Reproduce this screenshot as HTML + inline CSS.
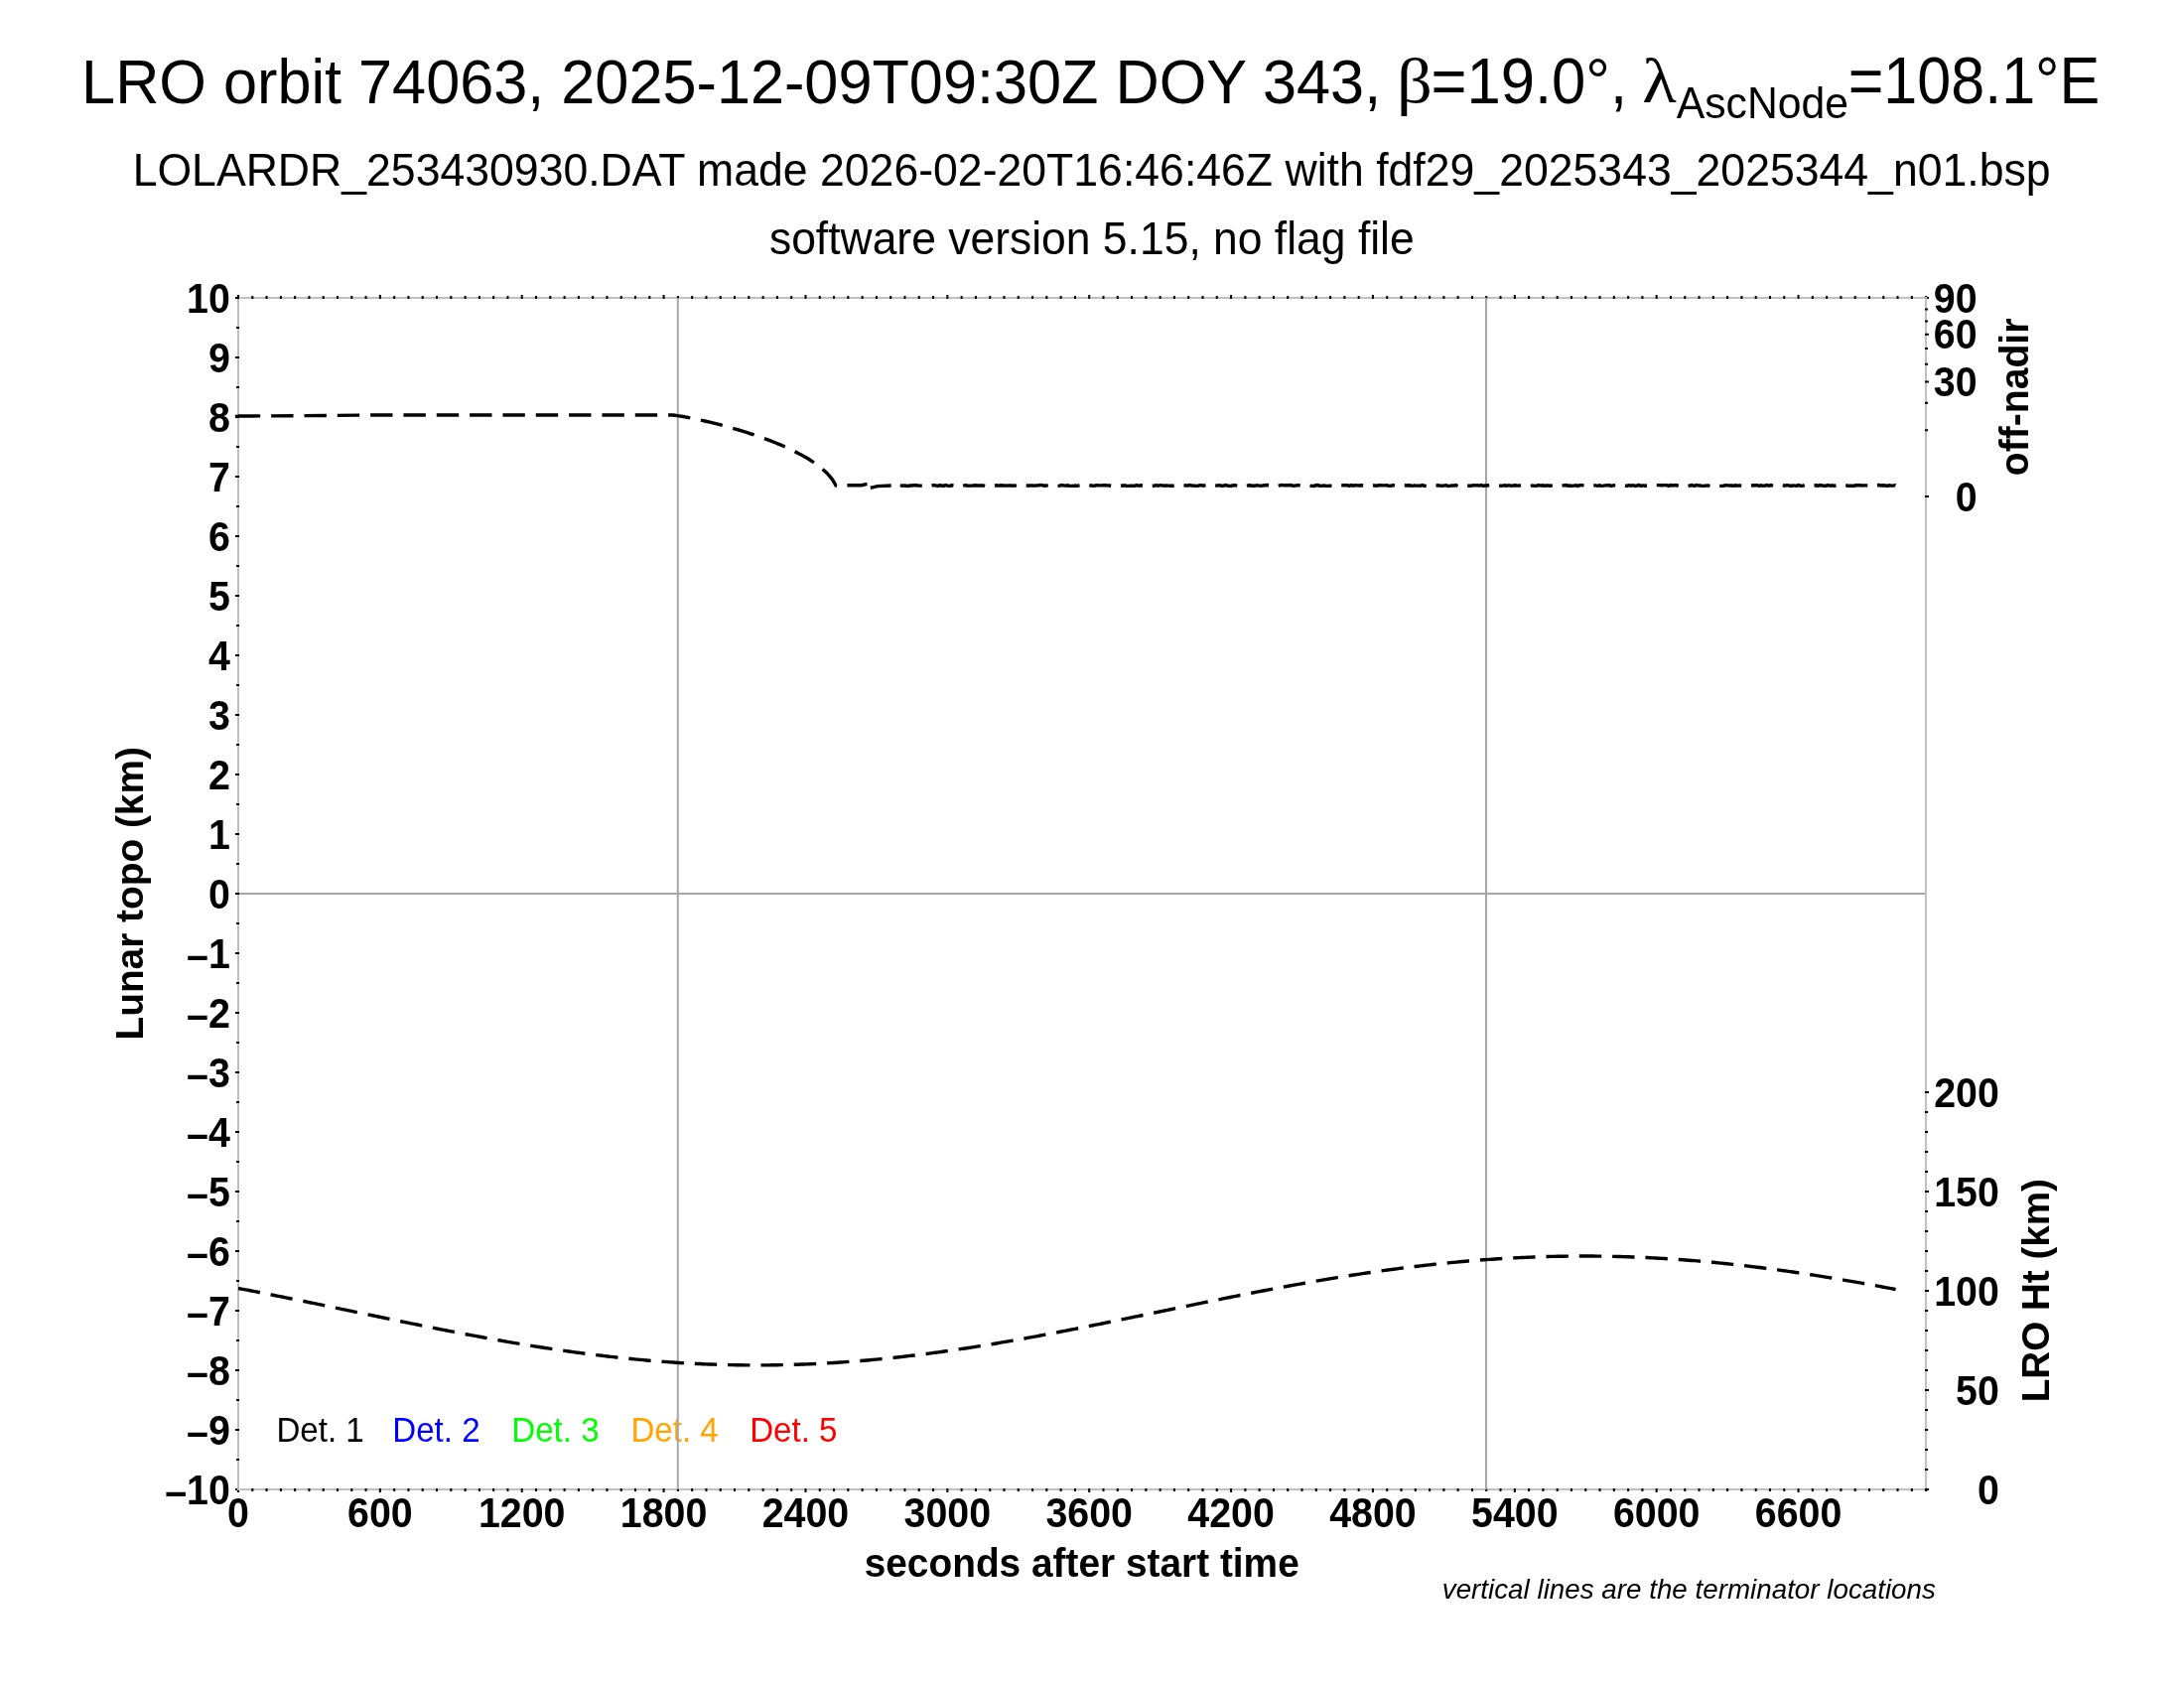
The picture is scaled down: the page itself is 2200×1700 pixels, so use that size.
<!DOCTYPE html><html><head><meta charset="utf-8"><title>LRO orbit 74063</title><style>html,body{margin:0;padding:0;background:#fff;overflow:hidden}svg{display:block;will-change:transform}</style></head><body>
<svg width="2200" height="1700" viewBox="0 0 2200 1700">
<rect x="0" y="0" width="2200" height="1700" fill="#fff"/>
<text x="20" y="300" font-family="Liberation Sans, sans-serif" font-size="64.5" fill="#000" transform="translate(63.133 -190.185) scale(0.94917 0.98000)">LRO orbit 74063, 2025-12-09T09:30Z DOY 343,</text>
<text x="20" y="300" font-family="Liberation Serif, serif" font-size="64.5" fill="#000" transform="translate(1385.237 -195.826) scale(1.09126 0.99578)">β</text>
<text x="20" y="300" font-family="Liberation Sans, sans-serif" font-size="64.5" fill="#000" transform="translate(1422.391 -196.739) scale(0.95525 1.00094)">=19.0°,</text>
<text x="20" y="300" font-family="Liberation Serif, serif" font-size="64.5" fill="#000" transform="translate(1632.182 -190.707) scale(1.10427 0.97802)">λ</text>
<text x="20" y="300" font-family="Liberation Sans, sans-serif" font-size="45.5" fill="#000" transform="translate(1669.989 -171.633) scale(0.93882 0.96716)">AscNode</text>
<text x="20" y="300" font-family="Liberation Sans, sans-serif" font-size="64.5" fill="#000" transform="translate(1842.798 -202.604) scale(0.94632 1.02198)">=108.1°E</text>
<text x="20" y="300" font-family="Liberation Sans, sans-serif" font-size="47" fill="#000" transform="translate(114.661 -107.640) scale(0.94901 0.98286)">LOLARDR_253430930.DAT made 2026-02-20T16:46:46Z with fdf29_2025343_2025344_n01.bsp</text>
<text x="20" y="300" font-family="Liberation Sans, sans-serif" font-size="47" fill="#000" transform="translate(755.995 -33.984) scale(0.94611 0.96686)">software version 5.15, no flag file</text>
<path d="M240.0 900H1940.0" stroke="#a6a6a6" stroke-width="2" fill="none"/>
<rect x="240.0" y="300.0" width="1700.0" height="1200.0" fill="none" stroke="#c0c0c0" stroke-width="2"/>
<path d="M239.00 1499.0h2v4h-2zM239.00 301.0h2v-4h-2zM253.29 1499.0h2v3h-2zM253.29 301.0h2v-3h-2zM267.57 1499.0h2v3h-2zM267.57 301.0h2v-3h-2zM281.86 1499.0h2v3h-2zM281.86 301.0h2v-3h-2zM296.15 1499.0h2v3h-2zM296.15 301.0h2v-3h-2zM310.43 1499.0h2v3h-2zM310.43 301.0h2v-3h-2zM324.72 1499.0h2v3h-2zM324.72 301.0h2v-3h-2zM339.01 1499.0h2v3h-2zM339.01 301.0h2v-3h-2zM353.30 1499.0h2v3h-2zM353.30 301.0h2v-3h-2zM367.58 1499.0h2v3h-2zM367.58 301.0h2v-3h-2zM381.87 1499.0h2v4h-2zM381.87 301.0h2v-4h-2zM396.16 1499.0h2v3h-2zM396.16 301.0h2v-3h-2zM410.44 1499.0h2v3h-2zM410.44 301.0h2v-3h-2zM424.73 1499.0h2v3h-2zM424.73 301.0h2v-3h-2zM439.02 1499.0h2v3h-2zM439.02 301.0h2v-3h-2zM453.30 1499.0h2v3h-2zM453.30 301.0h2v-3h-2zM467.59 1499.0h2v3h-2zM467.59 301.0h2v-3h-2zM481.88 1499.0h2v3h-2zM481.88 301.0h2v-3h-2zM496.16 1499.0h2v3h-2zM496.16 301.0h2v-3h-2zM510.45 1499.0h2v3h-2zM510.45 301.0h2v-3h-2zM524.74 1499.0h2v4h-2zM524.74 301.0h2v-4h-2zM539.03 1499.0h2v3h-2zM539.03 301.0h2v-3h-2zM553.31 1499.0h2v3h-2zM553.31 301.0h2v-3h-2zM567.60 1499.0h2v3h-2zM567.60 301.0h2v-3h-2zM581.89 1499.0h2v3h-2zM581.89 301.0h2v-3h-2zM596.17 1499.0h2v3h-2zM596.17 301.0h2v-3h-2zM610.46 1499.0h2v3h-2zM610.46 301.0h2v-3h-2zM624.75 1499.0h2v3h-2zM624.75 301.0h2v-3h-2zM639.03 1499.0h2v3h-2zM639.03 301.0h2v-3h-2zM653.32 1499.0h2v3h-2zM653.32 301.0h2v-3h-2zM667.61 1499.0h2v4h-2zM667.61 301.0h2v-4h-2zM681.89 1499.0h2v3h-2zM681.89 301.0h2v-3h-2zM696.18 1499.0h2v3h-2zM696.18 301.0h2v-3h-2zM710.47 1499.0h2v3h-2zM710.47 301.0h2v-3h-2zM724.75 1499.0h2v3h-2zM724.75 301.0h2v-3h-2zM739.04 1499.0h2v3h-2zM739.04 301.0h2v-3h-2zM753.33 1499.0h2v3h-2zM753.33 301.0h2v-3h-2zM767.62 1499.0h2v3h-2zM767.62 301.0h2v-3h-2zM781.90 1499.0h2v3h-2zM781.90 301.0h2v-3h-2zM796.19 1499.0h2v3h-2zM796.19 301.0h2v-3h-2zM810.48 1499.0h2v4h-2zM810.48 301.0h2v-4h-2zM824.76 1499.0h2v3h-2zM824.76 301.0h2v-3h-2zM839.05 1499.0h2v3h-2zM839.05 301.0h2v-3h-2zM853.34 1499.0h2v3h-2zM853.34 301.0h2v-3h-2zM867.62 1499.0h2v3h-2zM867.62 301.0h2v-3h-2zM881.91 1499.0h2v3h-2zM881.91 301.0h2v-3h-2zM896.20 1499.0h2v3h-2zM896.20 301.0h2v-3h-2zM910.48 1499.0h2v3h-2zM910.48 301.0h2v-3h-2zM924.77 1499.0h2v3h-2zM924.77 301.0h2v-3h-2zM939.06 1499.0h2v3h-2zM939.06 301.0h2v-3h-2zM953.35 1499.0h2v4h-2zM953.35 301.0h2v-4h-2zM967.63 1499.0h2v3h-2zM967.63 301.0h2v-3h-2zM981.92 1499.0h2v3h-2zM981.92 301.0h2v-3h-2zM996.21 1499.0h2v3h-2zM996.21 301.0h2v-3h-2zM1010.49 1499.0h2v3h-2zM1010.49 301.0h2v-3h-2zM1024.78 1499.0h2v3h-2zM1024.78 301.0h2v-3h-2zM1039.07 1499.0h2v3h-2zM1039.07 301.0h2v-3h-2zM1053.35 1499.0h2v3h-2zM1053.35 301.0h2v-3h-2zM1067.64 1499.0h2v3h-2zM1067.64 301.0h2v-3h-2zM1081.93 1499.0h2v3h-2zM1081.93 301.0h2v-3h-2zM1096.21 1499.0h2v4h-2zM1096.21 301.0h2v-4h-2zM1110.50 1499.0h2v3h-2zM1110.50 301.0h2v-3h-2zM1124.79 1499.0h2v3h-2zM1124.79 301.0h2v-3h-2zM1139.08 1499.0h2v3h-2zM1139.08 301.0h2v-3h-2zM1153.36 1499.0h2v3h-2zM1153.36 301.0h2v-3h-2zM1167.65 1499.0h2v3h-2zM1167.65 301.0h2v-3h-2zM1181.94 1499.0h2v3h-2zM1181.94 301.0h2v-3h-2zM1196.22 1499.0h2v3h-2zM1196.22 301.0h2v-3h-2zM1210.51 1499.0h2v3h-2zM1210.51 301.0h2v-3h-2zM1224.80 1499.0h2v3h-2zM1224.80 301.0h2v-3h-2zM1239.08 1499.0h2v4h-2zM1239.08 301.0h2v-4h-2zM1253.37 1499.0h2v3h-2zM1253.37 301.0h2v-3h-2zM1267.66 1499.0h2v3h-2zM1267.66 301.0h2v-3h-2zM1281.94 1499.0h2v3h-2zM1281.94 301.0h2v-3h-2zM1296.23 1499.0h2v3h-2zM1296.23 301.0h2v-3h-2zM1310.52 1499.0h2v3h-2zM1310.52 301.0h2v-3h-2zM1324.81 1499.0h2v3h-2zM1324.81 301.0h2v-3h-2zM1339.09 1499.0h2v3h-2zM1339.09 301.0h2v-3h-2zM1353.38 1499.0h2v3h-2zM1353.38 301.0h2v-3h-2zM1367.67 1499.0h2v3h-2zM1367.67 301.0h2v-3h-2zM1381.95 1499.0h2v4h-2zM1381.95 301.0h2v-4h-2zM1396.24 1499.0h2v3h-2zM1396.24 301.0h2v-3h-2zM1410.53 1499.0h2v3h-2zM1410.53 301.0h2v-3h-2zM1424.81 1499.0h2v3h-2zM1424.81 301.0h2v-3h-2zM1439.10 1499.0h2v3h-2zM1439.10 301.0h2v-3h-2zM1453.39 1499.0h2v3h-2zM1453.39 301.0h2v-3h-2zM1467.67 1499.0h2v3h-2zM1467.67 301.0h2v-3h-2zM1481.96 1499.0h2v3h-2zM1481.96 301.0h2v-3h-2zM1496.25 1499.0h2v3h-2zM1496.25 301.0h2v-3h-2zM1510.53 1499.0h2v3h-2zM1510.53 301.0h2v-3h-2zM1524.82 1499.0h2v4h-2zM1524.82 301.0h2v-4h-2zM1539.11 1499.0h2v3h-2zM1539.11 301.0h2v-3h-2zM1553.40 1499.0h2v3h-2zM1553.40 301.0h2v-3h-2zM1567.68 1499.0h2v3h-2zM1567.68 301.0h2v-3h-2zM1581.97 1499.0h2v3h-2zM1581.97 301.0h2v-3h-2zM1596.26 1499.0h2v3h-2zM1596.26 301.0h2v-3h-2zM1610.54 1499.0h2v3h-2zM1610.54 301.0h2v-3h-2zM1624.83 1499.0h2v3h-2zM1624.83 301.0h2v-3h-2zM1639.12 1499.0h2v3h-2zM1639.12 301.0h2v-3h-2zM1653.40 1499.0h2v3h-2zM1653.40 301.0h2v-3h-2zM1667.69 1499.0h2v4h-2zM1667.69 301.0h2v-4h-2zM1681.98 1499.0h2v3h-2zM1681.98 301.0h2v-3h-2zM1696.26 1499.0h2v3h-2zM1696.26 301.0h2v-3h-2zM1710.55 1499.0h2v3h-2zM1710.55 301.0h2v-3h-2zM1724.84 1499.0h2v3h-2zM1724.84 301.0h2v-3h-2zM1739.13 1499.0h2v3h-2zM1739.13 301.0h2v-3h-2zM1753.41 1499.0h2v3h-2zM1753.41 301.0h2v-3h-2zM1767.70 1499.0h2v3h-2zM1767.70 301.0h2v-3h-2zM1781.99 1499.0h2v3h-2zM1781.99 301.0h2v-3h-2zM1796.27 1499.0h2v3h-2zM1796.27 301.0h2v-3h-2zM1810.56 1499.0h2v4h-2zM1810.56 301.0h2v-4h-2zM1824.85 1499.0h2v3h-2zM1824.85 301.0h2v-3h-2zM1839.13 1499.0h2v3h-2zM1839.13 301.0h2v-3h-2zM1853.42 1499.0h2v3h-2zM1853.42 301.0h2v-3h-2zM1867.71 1499.0h2v3h-2zM1867.71 301.0h2v-3h-2zM1881.99 1499.0h2v3h-2zM1881.99 301.0h2v-3h-2zM1896.28 1499.0h2v3h-2zM1896.28 301.0h2v-3h-2zM1910.57 1499.0h2v3h-2zM1910.57 301.0h2v-3h-2zM1924.86 1499.0h2v3h-2zM1924.86 301.0h2v-3h-2zM1939.14 1499.0h2v3h-2zM1939.14 301.0h2v-3h-2zM241.0 1499.00h-4v2h4zM241.0 1469.00h-3v2h3zM241.0 1439.00h-4v2h4zM241.0 1409.00h-3v2h3zM241.0 1379.00h-4v2h4zM241.0 1349.00h-3v2h3zM241.0 1319.00h-4v2h4zM241.0 1289.00h-3v2h3zM241.0 1259.00h-4v2h4zM241.0 1229.00h-3v2h3zM241.0 1199.00h-4v2h4zM241.0 1169.00h-3v2h3zM241.0 1139.00h-4v2h4zM241.0 1109.00h-3v2h3zM241.0 1079.00h-4v2h4zM241.0 1049.00h-3v2h3zM241.0 1019.00h-4v2h4zM241.0 989.00h-3v2h3zM241.0 959.00h-4v2h4zM241.0 929.00h-3v2h3zM241.0 899.00h-4v2h4zM241.0 869.00h-3v2h3zM241.0 839.00h-4v2h4zM241.0 809.00h-3v2h3zM241.0 779.00h-4v2h4zM241.0 749.00h-3v2h3zM241.0 719.00h-4v2h4zM241.0 689.00h-3v2h3zM241.0 659.00h-4v2h4zM241.0 629.00h-3v2h3zM241.0 599.00h-4v2h4zM241.0 569.00h-3v2h3zM241.0 539.00h-4v2h4zM241.0 509.00h-3v2h3zM241.0 479.00h-4v2h4zM241.0 449.00h-3v2h3zM241.0 419.00h-4v2h4zM241.0 389.00h-3v2h3zM241.0 359.00h-4v2h4zM241.0 329.00h-3v2h3zM241.0 299.00h-4v2h4zM1939.0 499.00h4v2h-4zM1939.0 432.33h3v2h-3zM1939.0 404.72h3v2h-3zM1939.0 383.53h4v2h-4zM1939.0 365.67h3v2h-3zM1939.0 349.93h3v2h-3zM1939.0 335.70h4v2h-4zM1939.0 322.62h3v2h-3zM1939.0 310.44h3v2h-3zM1939.0 299.00h4v2h-4zM1939.0 1499.00h4v2h-4zM1939.0 1479.00h3v2h-3zM1939.0 1459.00h3v2h-3zM1939.0 1439.00h3v2h-3zM1939.0 1419.00h3v2h-3zM1939.0 1399.00h4v2h-4zM1939.0 1379.00h3v2h-3zM1939.0 1359.00h3v2h-3zM1939.0 1339.00h3v2h-3zM1939.0 1319.00h3v2h-3zM1939.0 1299.00h4v2h-4zM1939.0 1279.00h3v2h-3zM1939.0 1259.00h3v2h-3zM1939.0 1239.00h3v2h-3zM1939.0 1219.00h3v2h-3zM1939.0 1199.00h4v2h-4zM1939.0 1179.00h3v2h-3zM1939.0 1159.00h3v2h-3zM1939.0 1139.00h3v2h-3zM1939.0 1119.00h3v2h-3zM1939.0 1099.00h4v2h-4z" fill="#000"/>
<g fill="#000">
<text x="0" y="0" font-family="Liberation Sans, sans-serif" font-weight="bold" font-size="41" text-anchor="end" transform="translate(231.80 1514.55) scale(0.96 1.045)"><tspan dy="1.7">–</tspan><tspan dy="-1.7">10</tspan></text>
<text x="0" y="0" font-family="Liberation Sans, sans-serif" font-weight="bold" font-size="41" text-anchor="end" transform="translate(231.80 1454.55) scale(0.96 1.045)"><tspan dy="1.7">–</tspan><tspan dy="-1.7">9</tspan></text>
<text x="0" y="0" font-family="Liberation Sans, sans-serif" font-weight="bold" font-size="41" text-anchor="end" transform="translate(231.80 1394.55) scale(0.96 1.045)"><tspan dy="1.7">–</tspan><tspan dy="-1.7">8</tspan></text>
<text x="0" y="0" font-family="Liberation Sans, sans-serif" font-weight="bold" font-size="41" text-anchor="end" transform="translate(231.80 1334.55) scale(0.96 1.045)"><tspan dy="1.7">–</tspan><tspan dy="-1.7">7</tspan></text>
<text x="0" y="0" font-family="Liberation Sans, sans-serif" font-weight="bold" font-size="41" text-anchor="end" transform="translate(231.80 1274.55) scale(0.96 1.045)"><tspan dy="1.7">–</tspan><tspan dy="-1.7">6</tspan></text>
<text x="0" y="0" font-family="Liberation Sans, sans-serif" font-weight="bold" font-size="41" text-anchor="end" transform="translate(231.80 1214.55) scale(0.96 1.045)"><tspan dy="1.7">–</tspan><tspan dy="-1.7">5</tspan></text>
<text x="0" y="0" font-family="Liberation Sans, sans-serif" font-weight="bold" font-size="41" text-anchor="end" transform="translate(231.80 1154.55) scale(0.96 1.045)"><tspan dy="1.7">–</tspan><tspan dy="-1.7">4</tspan></text>
<text x="0" y="0" font-family="Liberation Sans, sans-serif" font-weight="bold" font-size="41" text-anchor="end" transform="translate(231.80 1094.55) scale(0.96 1.045)"><tspan dy="1.7">–</tspan><tspan dy="-1.7">3</tspan></text>
<text x="0" y="0" font-family="Liberation Sans, sans-serif" font-weight="bold" font-size="41" text-anchor="end" transform="translate(231.80 1034.55) scale(0.96 1.045)"><tspan dy="1.7">–</tspan><tspan dy="-1.7">2</tspan></text>
<text x="0" y="0" font-family="Liberation Sans, sans-serif" font-weight="bold" font-size="41" text-anchor="end" transform="translate(231.80 974.55) scale(0.96 1.045)"><tspan dy="1.7">–</tspan><tspan dy="-1.7">1</tspan></text>
<text x="0" y="0" font-family="Liberation Sans, sans-serif" font-weight="bold" font-size="41" text-anchor="end" transform="translate(231.80 914.55) scale(0.96 1.045)">0</text>
<text x="0" y="0" font-family="Liberation Sans, sans-serif" font-weight="bold" font-size="41" text-anchor="end" transform="translate(231.80 854.55) scale(0.96 1.045)">1</text>
<text x="0" y="0" font-family="Liberation Sans, sans-serif" font-weight="bold" font-size="41" text-anchor="end" transform="translate(231.80 794.55) scale(0.96 1.045)">2</text>
<text x="0" y="0" font-family="Liberation Sans, sans-serif" font-weight="bold" font-size="41" text-anchor="end" transform="translate(231.80 734.55) scale(0.96 1.045)">3</text>
<text x="0" y="0" font-family="Liberation Sans, sans-serif" font-weight="bold" font-size="41" text-anchor="end" transform="translate(231.80 674.55) scale(0.96 1.045)">4</text>
<text x="0" y="0" font-family="Liberation Sans, sans-serif" font-weight="bold" font-size="41" text-anchor="end" transform="translate(231.80 614.55) scale(0.96 1.045)">5</text>
<text x="0" y="0" font-family="Liberation Sans, sans-serif" font-weight="bold" font-size="41" text-anchor="end" transform="translate(231.80 554.55) scale(0.96 1.045)">6</text>
<text x="0" y="0" font-family="Liberation Sans, sans-serif" font-weight="bold" font-size="41" text-anchor="end" transform="translate(231.80 494.55) scale(0.96 1.045)">7</text>
<text x="0" y="0" font-family="Liberation Sans, sans-serif" font-weight="bold" font-size="41" text-anchor="end" transform="translate(231.80 434.55) scale(0.96 1.045)">8</text>
<text x="0" y="0" font-family="Liberation Sans, sans-serif" font-weight="bold" font-size="41" text-anchor="end" transform="translate(231.80 374.55) scale(0.96 1.045)">9</text>
<text x="0" y="0" font-family="Liberation Sans, sans-serif" font-weight="bold" font-size="41" text-anchor="end" transform="translate(231.80 314.55) scale(0.96 1.045)">10</text>
<text x="0" y="0" font-family="Liberation Sans, sans-serif" font-weight="bold" font-size="41" text-anchor="middle" transform="translate(240.00 1537.55) scale(0.96 1.045)">0</text>
<text x="0" y="0" font-family="Liberation Sans, sans-serif" font-weight="bold" font-size="41" text-anchor="middle" transform="translate(382.87 1537.55) scale(0.96 1.045)">600</text>
<text x="0" y="0" font-family="Liberation Sans, sans-serif" font-weight="bold" font-size="41" text-anchor="middle" transform="translate(525.74 1537.55) scale(0.96 1.045)">1200</text>
<text x="0" y="0" font-family="Liberation Sans, sans-serif" font-weight="bold" font-size="41" text-anchor="middle" transform="translate(668.61 1537.55) scale(0.96 1.045)">1800</text>
<text x="0" y="0" font-family="Liberation Sans, sans-serif" font-weight="bold" font-size="41" text-anchor="middle" transform="translate(811.48 1537.55) scale(0.96 1.045)">2400</text>
<text x="0" y="0" font-family="Liberation Sans, sans-serif" font-weight="bold" font-size="41" text-anchor="middle" transform="translate(954.35 1537.55) scale(0.96 1.045)">3000</text>
<text x="0" y="0" font-family="Liberation Sans, sans-serif" font-weight="bold" font-size="41" text-anchor="middle" transform="translate(1097.21 1537.55) scale(0.96 1.045)">3600</text>
<text x="0" y="0" font-family="Liberation Sans, sans-serif" font-weight="bold" font-size="41" text-anchor="middle" transform="translate(1240.08 1537.55) scale(0.96 1.045)">4200</text>
<text x="0" y="0" font-family="Liberation Sans, sans-serif" font-weight="bold" font-size="41" text-anchor="middle" transform="translate(1382.95 1537.55) scale(0.96 1.045)">4800</text>
<text x="0" y="0" font-family="Liberation Sans, sans-serif" font-weight="bold" font-size="41" text-anchor="middle" transform="translate(1525.82 1537.55) scale(0.96 1.045)">5400</text>
<text x="0" y="0" font-family="Liberation Sans, sans-serif" font-weight="bold" font-size="41" text-anchor="middle" transform="translate(1668.69 1537.55) scale(0.96 1.045)">6000</text>
<text x="0" y="0" font-family="Liberation Sans, sans-serif" font-weight="bold" font-size="41" text-anchor="middle" transform="translate(1811.56 1537.55) scale(0.96 1.045)">6600</text>
<text x="0" y="0" font-family="Liberation Sans, sans-serif" font-weight="bold" font-size="41" text-anchor="end" transform="translate(1991.60 514.55) scale(0.96 1.045)">0</text>
<text x="0" y="0" font-family="Liberation Sans, sans-serif" font-weight="bold" font-size="41" text-anchor="end" transform="translate(1991.60 399.08) scale(0.96 1.045)">30</text>
<text x="0" y="0" font-family="Liberation Sans, sans-serif" font-weight="bold" font-size="41" text-anchor="end" transform="translate(1991.60 351.25) scale(0.96 1.045)">60</text>
<text x="0" y="0" font-family="Liberation Sans, sans-serif" font-weight="bold" font-size="41" text-anchor="end" transform="translate(1991.60 314.55) scale(0.96 1.045)">90</text>
<text x="0" y="0" font-family="Liberation Sans, sans-serif" font-weight="bold" font-size="41" text-anchor="end" transform="translate(2013.80 1514.55) scale(0.96 1.045)">0</text>
<text x="0" y="0" font-family="Liberation Sans, sans-serif" font-weight="bold" font-size="41" text-anchor="end" transform="translate(2013.80 1414.55) scale(0.96 1.045)">50</text>
<text x="0" y="0" font-family="Liberation Sans, sans-serif" font-weight="bold" font-size="41" text-anchor="end" transform="translate(2013.80 1314.55) scale(0.96 1.045)">100</text>
<text x="0" y="0" font-family="Liberation Sans, sans-serif" font-weight="bold" font-size="41" text-anchor="end" transform="translate(2013.80 1214.55) scale(0.96 1.045)">150</text>
<text x="0" y="0" font-family="Liberation Sans, sans-serif" font-weight="bold" font-size="41" text-anchor="end" transform="translate(2013.80 1114.55) scale(0.96 1.045)">200</text>
</g>
<text x="20" y="300" font-family="Liberation Sans, sans-serif" font-weight="bold" font-size="41" fill="#000" transform="translate(851.729 1291.553) scale(0.94747 0.98667)">seconds after start time</text>
<text x="20" y="300" font-family="Liberation Sans, sans-serif" font-weight="bold" font-size="41" fill="#000" transform="translate(115.200 1044.900) rotate(-90) scale(0.94711 0.95686) translate(-22.750 -270.250)">Lunar topo (km)</text>
<text x="20" y="300" font-family="Liberation Sans, sans-serif" font-weight="bold" font-size="41" fill="#000" transform="translate(2013.300 477.700) rotate(-90) scale(0.95403 0.98667) translate(-21.500 -270.250)">off-nadir</text>
<text x="20" y="300" font-family="Liberation Sans, sans-serif" font-weight="bold" font-size="41" fill="#000" transform="translate(2035.400 1409.700) rotate(-90) scale(0.94216 0.95163) translate(-22.750 -270.250)">LRO Ht (km)</text>
<text x="20" y="300" font-family="Liberation Sans, sans-serif" font-style="italic" font-size="29" fill="#000" transform="translate(1433.592 1319.334) scale(0.95849 0.96941)">vertical lines are the terminator locations</text>
<text x="20" y="300" font-family="Liberation Sans, sans-serif" font-size="35" fill="#000" transform="translate(259.477 1146.891) scale(0.94607 1.01818)">Det. 1</text>
<text x="20" y="300" font-family="Liberation Sans, sans-serif" font-size="35" fill="#0000ff" transform="translate(376.377 1146.891) scale(0.94607 1.01818)">Det. 2</text>
<text x="20" y="300" font-family="Liberation Sans, sans-serif" font-size="35" fill="#00ff00" transform="translate(496.377 1146.891) scale(0.94607 1.01818)">Det. 3</text>
<text x="20" y="300" font-family="Liberation Sans, sans-serif" font-size="35" fill="#ffa500" transform="translate(616.477 1146.891) scale(0.94607 1.01818)">Det. 4</text>
<text x="20" y="300" font-family="Liberation Sans, sans-serif" font-size="35" fill="#ff0000" transform="translate(736.277 1146.891) scale(0.94607 1.01818)">Det. 5</text>
<path d="M682.8 300.0V1500.0" stroke="#a6a6a6" stroke-width="2" fill="none"/>
<path d="M1497.0 300.0V1500.0" stroke="#a6a6a6" stroke-width="2" fill="none"/>
<polyline points="240.0,1297.49 243.0,1298.06 246.0,1298.63 249.0,1299.20 252.0,1299.77 255.0,1300.35 258.0,1300.93 261.0,1301.51 264.0,1302.10 267.0,1302.68 270.0,1303.27 273.0,1303.87 276.0,1304.46 279.0,1305.06 282.0,1305.65 285.0,1306.25 288.0,1306.86 291.0,1307.46 294.0,1308.06 297.0,1308.67 300.0,1309.28 303.0,1309.89 306.0,1310.50 309.0,1311.11 312.0,1311.73 315.0,1312.34 318.0,1312.96 321.0,1313.58 324.0,1314.20 327.0,1314.82 330.0,1315.44 333.0,1316.06 336.0,1316.68 339.0,1317.30 342.0,1317.92 345.0,1318.55 348.0,1319.17 351.0,1319.79 354.0,1320.42 357.0,1321.04 360.0,1321.67 363.0,1322.29 366.0,1322.91 369.0,1323.54 372.0,1324.16 375.0,1324.78 378.0,1325.40 381.0,1326.03 384.0,1326.65 387.0,1327.27 390.0,1327.89 393.0,1328.50 396.0,1329.12 399.0,1329.74 402.0,1330.35 405.0,1330.97 408.0,1331.58 411.0,1332.19 414.0,1332.80 417.0,1333.41 420.0,1334.02 423.0,1334.62 426.0,1335.23 429.0,1335.83 432.0,1336.43 435.0,1337.02 438.0,1337.62 441.0,1338.21 444.0,1338.80 447.0,1339.39 450.0,1339.98 453.0,1340.56 456.0,1341.14 459.0,1341.72 462.0,1342.30 465.0,1342.87 468.0,1343.44 471.0,1344.01 474.0,1344.57 477.0,1345.13 480.0,1345.69 483.0,1346.24 486.0,1346.79 489.0,1347.34 492.0,1347.89 495.0,1348.43 498.0,1348.96 501.0,1349.50 504.0,1350.03 507.0,1350.55 510.0,1351.07 513.0,1351.59 516.0,1352.10 519.0,1352.61 522.0,1353.12 525.0,1353.62 528.0,1354.11 531.0,1354.61 534.0,1355.09 537.0,1355.58 540.0,1356.06 543.0,1356.53 546.0,1357.00 549.0,1357.46 552.0,1357.92 555.0,1358.37 558.0,1358.82 561.0,1359.27 564.0,1359.71 567.0,1360.14 570.0,1360.57 573.0,1360.99 576.0,1361.41 579.0,1361.82 582.0,1362.23 585.0,1362.63 588.0,1363.03 591.0,1363.42 594.0,1363.80 597.0,1364.18 600.0,1364.55 603.0,1364.92 606.0,1365.28 609.0,1365.63 612.0,1365.98 615.0,1366.33 618.0,1366.66 621.0,1366.99 624.0,1367.32 627.0,1367.63 630.0,1367.95 633.0,1368.25 636.0,1368.55 639.0,1368.84 642.0,1369.13 645.0,1369.41 648.0,1369.68 651.0,1369.95 654.0,1370.21 657.0,1370.46 660.0,1370.71 663.0,1370.94 666.0,1371.18 669.0,1371.40 672.0,1371.62 675.0,1371.83 678.0,1372.04 681.0,1372.24 684.0,1372.43 687.0,1372.61 690.0,1372.79 693.0,1372.96 696.0,1373.12 699.0,1373.28 702.0,1373.43 705.0,1373.57 708.0,1373.71 711.0,1373.83 714.0,1373.95 717.0,1374.07 720.0,1374.17 723.0,1374.27 726.0,1374.36 729.0,1374.45 732.0,1374.53 735.0,1374.60 738.0,1374.66 741.0,1374.71 744.0,1374.76 747.0,1374.80 750.0,1374.83 753.0,1374.86 756.0,1374.88 759.0,1374.89 762.0,1374.89 765.0,1374.89 768.0,1374.88 771.0,1374.86 774.0,1374.84 777.0,1374.80 780.0,1374.76 783.0,1374.72 786.0,1374.66 789.0,1374.60 792.0,1374.53 795.0,1374.45 798.0,1374.37 801.0,1374.28 804.0,1374.18 807.0,1374.07 810.0,1373.96 813.0,1373.84 816.0,1373.71 819.0,1373.58 822.0,1373.44 825.0,1373.29 828.0,1373.13 831.0,1372.97 834.0,1372.80 837.0,1372.63 840.0,1372.44 843.0,1372.25 846.0,1372.05 849.0,1371.85 852.0,1371.64 855.0,1371.42 858.0,1371.19 861.0,1370.96 864.0,1370.72 867.0,1370.48 870.0,1370.23 873.0,1369.97 876.0,1369.70 879.0,1369.43 882.0,1369.15 885.0,1368.87 888.0,1368.57 891.0,1368.28 894.0,1367.97 897.0,1367.66 900.0,1367.35 903.0,1367.02 906.0,1366.69 909.0,1366.36 912.0,1366.02 915.0,1365.67 918.0,1365.31 921.0,1364.96 924.0,1364.59 927.0,1364.22 930.0,1363.84 933.0,1363.46 936.0,1363.07 939.0,1362.68 942.0,1362.28 945.0,1361.87 948.0,1361.46 951.0,1361.04 954.0,1360.62 957.0,1360.20 960.0,1359.76 963.0,1359.33 966.0,1358.88 969.0,1358.44 972.0,1357.98 975.0,1357.53 978.0,1357.06 981.0,1356.60 984.0,1356.13 987.0,1355.65 990.0,1355.17 993.0,1354.68 996.0,1354.19 999.0,1353.70 1002.0,1353.20 1005.0,1352.70 1008.0,1352.19 1011.0,1351.68 1014.0,1351.16 1017.0,1350.64 1020.0,1350.12 1023.0,1349.59 1026.0,1349.06 1029.0,1348.53 1032.0,1347.99 1035.0,1347.45 1038.0,1346.90 1041.0,1346.35 1044.0,1345.80 1047.0,1345.24 1050.0,1344.69 1053.0,1344.12 1056.0,1343.56 1059.0,1342.99 1062.0,1342.42 1065.0,1341.85 1068.0,1341.27 1071.0,1340.69 1074.0,1340.11 1077.0,1339.53 1080.0,1338.94 1083.0,1338.35 1086.0,1337.76 1089.0,1337.17 1092.0,1336.57 1095.0,1335.98 1098.0,1335.38 1101.0,1334.78 1104.0,1334.18 1107.0,1333.57 1110.0,1332.96 1113.0,1332.36 1116.0,1331.75 1119.0,1331.14 1122.0,1330.53 1125.0,1329.91 1128.0,1329.30 1131.0,1328.68 1134.0,1328.07 1137.0,1327.45 1140.0,1326.83 1143.0,1326.21 1146.0,1325.59 1149.0,1324.98 1152.0,1324.35 1155.0,1323.73 1158.0,1323.11 1161.0,1322.49 1164.0,1321.87 1167.0,1321.25 1170.0,1320.63 1173.0,1320.00 1176.0,1319.38 1179.0,1318.76 1182.0,1318.14 1185.0,1317.52 1188.0,1316.90 1191.0,1316.28 1194.0,1315.66 1197.0,1315.04 1200.0,1314.43 1203.0,1313.81 1206.0,1313.19 1209.0,1312.58 1212.0,1311.96 1215.0,1311.35 1218.0,1310.74 1221.0,1310.13 1224.0,1309.52 1227.0,1308.91 1230.0,1308.31 1233.0,1307.70 1236.0,1307.10 1239.0,1306.50 1242.0,1305.90 1245.0,1305.31 1248.0,1304.71 1251.0,1304.12 1254.0,1303.53 1257.0,1302.94 1260.0,1302.35 1263.0,1301.77 1266.0,1301.19 1269.0,1300.61 1272.0,1300.03 1275.0,1299.46 1278.0,1298.89 1281.0,1298.32 1284.0,1297.75 1287.0,1297.19 1290.0,1296.63 1293.0,1296.08 1296.0,1295.52 1299.0,1294.97 1302.0,1294.43 1305.0,1293.88 1308.0,1293.34 1311.0,1292.81 1314.0,1292.27 1317.0,1291.74 1320.0,1291.22 1323.0,1290.69 1326.0,1290.18 1329.0,1289.66 1332.0,1289.15 1335.0,1288.64 1338.0,1288.14 1341.0,1287.64 1344.0,1287.15 1347.0,1286.66 1350.0,1286.17 1353.0,1285.69 1356.0,1285.21 1359.0,1284.74 1362.0,1284.27 1365.0,1283.80 1368.0,1283.35 1371.0,1282.89 1374.0,1282.44 1377.0,1281.99 1380.0,1281.55 1383.0,1281.12 1386.0,1280.69 1389.0,1280.26 1392.0,1279.84 1395.0,1279.42 1398.0,1279.01 1401.0,1278.61 1404.0,1278.21 1407.0,1277.81 1410.0,1277.42 1413.0,1277.04 1416.0,1276.66 1419.0,1276.28 1422.0,1275.92 1425.0,1275.55 1428.0,1275.20 1431.0,1274.84 1434.0,1274.50 1437.0,1274.16 1440.0,1273.82 1443.0,1273.49 1446.0,1273.17 1449.0,1272.85 1452.0,1272.54 1455.0,1272.24 1458.0,1271.94 1461.0,1271.64 1464.0,1271.36 1467.0,1271.07 1470.0,1270.80 1473.0,1270.53 1476.0,1270.27 1479.0,1270.01 1482.0,1269.76 1485.0,1269.51 1488.0,1269.28 1491.0,1269.04 1494.0,1268.82 1497.0,1268.60 1500.0,1268.38 1503.0,1268.18 1506.0,1267.98 1509.0,1267.78 1512.0,1267.60 1515.0,1267.41 1518.0,1267.24 1521.0,1267.07 1524.0,1266.91 1527.0,1266.75 1530.0,1266.61 1533.0,1266.46 1536.0,1266.33 1539.0,1266.20 1542.0,1266.08 1545.0,1265.96 1548.0,1265.85 1551.0,1265.75 1554.0,1265.66 1557.0,1265.57 1560.0,1265.49 1563.0,1265.41 1566.0,1265.34 1569.0,1265.28 1572.0,1265.22 1575.0,1265.18 1578.0,1265.13 1581.0,1265.10 1584.0,1265.07 1587.0,1265.05 1590.0,1265.04 1593.0,1265.03 1596.0,1265.03 1599.0,1265.03 1602.0,1265.04 1605.0,1265.06 1608.0,1265.09 1611.0,1265.12 1614.0,1265.16 1617.0,1265.21 1620.0,1265.26 1623.0,1265.32 1626.0,1265.39 1629.0,1265.46 1632.0,1265.54 1635.0,1265.63 1638.0,1265.72 1641.0,1265.82 1644.0,1265.93 1647.0,1266.04 1650.0,1266.16 1653.0,1266.29 1656.0,1266.42 1659.0,1266.56 1662.0,1266.71 1665.0,1266.86 1668.0,1267.02 1671.0,1267.19 1674.0,1267.36 1677.0,1267.54 1680.0,1267.72 1683.0,1267.92 1686.0,1268.12 1689.0,1268.32 1692.0,1268.53 1695.0,1268.75 1698.0,1268.97 1701.0,1269.20 1704.0,1269.44 1707.0,1269.68 1710.0,1269.93 1713.0,1270.19 1716.0,1270.45 1719.0,1270.72 1722.0,1270.99 1725.0,1271.27 1728.0,1271.56 1731.0,1271.85 1734.0,1272.15 1737.0,1272.46 1740.0,1272.77 1743.0,1273.08 1746.0,1273.41 1749.0,1273.73 1752.0,1274.07 1755.0,1274.41 1758.0,1274.75 1761.0,1275.10 1764.0,1275.46 1767.0,1275.82 1770.0,1276.19 1773.0,1276.56 1776.0,1276.94 1779.0,1277.33 1782.0,1277.72 1785.0,1278.11 1788.0,1278.51 1791.0,1278.92 1794.0,1279.33 1797.0,1279.74 1800.0,1280.16 1803.0,1280.59 1806.0,1281.02 1809.0,1281.46 1812.0,1281.90 1815.0,1282.34 1818.0,1282.79 1821.0,1283.25 1824.0,1283.71 1827.0,1284.17 1830.0,1284.64 1833.0,1285.11 1836.0,1285.59 1839.0,1286.07 1842.0,1286.56 1845.0,1287.05 1848.0,1287.55 1851.0,1288.05 1854.0,1288.55 1857.0,1289.06 1860.0,1289.57 1863.0,1290.09 1866.0,1290.60 1869.0,1291.13 1872.0,1291.66 1875.0,1292.19 1878.0,1292.72 1881.0,1293.26 1884.0,1293.80 1887.0,1294.34 1890.0,1294.89 1893.0,1295.44 1896.0,1296.00 1899.0,1296.56 1902.0,1297.12 1905.0,1297.68 1908.0,1298.25 1909.6,1298.55" fill="none" stroke="#000" stroke-width="3.4" stroke-dasharray="22.4 10.93" stroke-dashoffset="0.12"/>
<polyline points="239.8,419.00 250.0,418.96 300.0,418.70 380.0,418.00 677.2,418.00 680.0,418.30 682.0,418.58 684.0,418.88 686.0,419.21 688.0,419.54 690.0,419.90 692.0,420.27 694.0,420.64 696.0,421.03 698.0,421.43 700.0,421.84 702.0,422.26 704.0,422.69 706.0,423.13 708.0,423.57 710.0,424.03 712.0,424.49 714.0,424.96 716.0,425.44 718.0,425.93 720.0,426.42 722.0,426.93 724.0,427.44 726.0,427.96 728.0,428.48 730.0,429.02 732.0,429.56 734.0,430.12 736.0,430.68 738.0,431.25 740.0,431.82 742.0,432.41 744.0,433.00 746.0,433.61 748.0,434.22 750.0,434.84 752.0,435.47 754.0,436.12 756.0,436.77 758.0,437.43 760.0,438.10 762.0,438.78 764.0,439.48 766.0,440.18 768.0,440.90 770.0,441.62 772.0,442.37 774.0,443.12 776.0,443.89 778.0,444.67 780.0,445.46 782.0,446.27 784.0,447.10 786.0,447.94 788.0,448.80 790.0,449.67 792.0,450.57 794.0,451.48 796.0,452.42 798.0,453.38 800.0,454.36 802.0,455.36 804.0,456.40 806.0,457.46 808.0,458.55 810.0,459.67 812.0,460.83 814.0,462.03 816.0,463.28 818.0,464.57 820.0,465.91 822.0,467.31 824.0,468.78 826.0,470.32 828.0,471.96 830.0,473.70 832.0,475.57 834.0,477.60 836.0,479.84 838.0,482.37 840.0,485.33 842.0,489.00 844.5,489.80 851.0,489.00" fill="none" stroke="#000" stroke-width="3.4" stroke-dasharray="22.4 10.93" stroke-dashoffset="0"/>
<path d="M236.9 419.6L240 419.1" stroke="#000" stroke-width="3.4" fill="none"/>
<polyline points="853.4,488.8 868,488.7 873.5,487.4" fill="none" stroke="#000" stroke-width="3.4"/>
<polyline points="876.8,491.3 884,489.6 897.7,489.0" fill="none" stroke="#000" stroke-width="3.4"/>
<path d="M906.8 488.62L908.8 489.25L910.8 488.94L912.8 489.20L914.8 489.43L916.8 489.03L918.8 489.00L920.8 488.61L922.8 488.79L924.8 489.00L926.8 489.16L928.8 489.27M938.5 488.89L940.5 488.61L942.5 488.81L944.5 489.37L946.5 488.74L948.5 488.96L950.5 489.39L952.5 488.57L954.5 489.09L956.5 489.41L958.5 488.76L960.5 489.04M970.2 489.37L972.2 488.67L974.2 489.02L976.2 489.23L978.2 489.15L980.2 488.97L982.2 488.73L984.2 488.99L986.2 488.89L988.2 488.98L990.2 488.88L992.2 489.30M1002.0 489.24L1004.0 488.83L1006.0 489.07L1008.0 488.80L1010.0 488.96L1012.0 488.87L1014.0 489.14L1016.0 488.88L1018.0 488.96L1020.0 489.20L1022.0 488.92L1024.0 489.37M1033.8 488.71L1035.8 489.22L1037.8 488.93L1039.8 488.93L1041.8 489.12L1043.8 489.02L1045.8 488.92L1047.8 488.55L1049.8 488.63L1051.8 489.19L1053.8 489.02L1055.8 489.18M1065.5 489.41L1067.5 489.16L1069.5 488.60L1071.5 488.83L1073.5 489.08L1075.5 488.76L1077.5 489.42L1079.5 489.40L1081.5 489.31L1083.5 488.98L1085.5 489.31L1087.5 488.67M1097.2 488.83L1099.2 488.97L1101.2 489.22L1103.2 488.99L1105.2 488.67L1107.2 488.86L1109.2 488.84L1111.2 488.82L1113.2 488.70L1115.2 488.92L1117.2 488.95L1119.2 489.25M1129.0 489.27L1131.0 489.02L1133.0 488.96L1135.0 489.25L1137.0 489.35L1139.0 489.16L1141.0 489.27L1143.0 489.40L1145.0 488.59L1147.0 489.34L1149.0 488.80L1151.0 488.98M1160.8 489.27L1162.8 489.20L1164.8 488.68L1166.8 489.14L1168.8 488.61L1170.8 488.87L1172.8 489.28L1174.8 488.93L1176.8 489.09L1178.8 489.21L1180.8 489.29L1182.8 489.23M1192.5 488.56L1194.5 488.93L1196.5 488.97L1198.5 488.60L1200.5 489.04L1202.5 489.10L1204.5 489.30L1206.5 489.40L1208.5 488.67L1210.5 488.76L1212.5 489.14L1214.5 488.67M1224.2 488.75L1226.2 489.07L1228.2 488.70L1230.2 489.25L1232.2 489.32L1234.2 488.58L1236.2 489.03L1238.2 489.27L1240.2 489.43L1242.2 488.80L1244.2 488.70L1246.2 489.34M1256.0 489.37L1258.0 488.73L1260.0 488.95L1262.0 489.20L1264.0 489.31L1266.0 488.70L1268.0 489.15L1270.0 489.28L1272.0 489.04L1274.0 488.70L1276.0 488.58L1278.0 488.80M1287.8 489.28L1289.8 488.59L1291.8 488.56L1293.8 488.88L1295.8 488.61L1297.8 488.68L1299.8 488.57L1301.8 489.02L1303.8 489.18L1305.8 488.93L1307.8 488.67L1309.8 488.85M1319.5 489.08L1321.5 489.40L1323.5 489.44L1325.5 488.77L1327.5 488.56L1329.5 489.30L1331.5 489.38L1333.5 488.96L1335.5 489.24L1337.5 489.33L1339.5 489.10L1341.5 489.34M1351.2 488.57L1353.2 488.79L1355.2 488.80L1357.2 488.66L1359.2 489.37L1361.2 488.58L1363.2 489.16L1365.2 488.61L1367.2 488.87L1369.2 488.93L1371.2 488.71L1373.2 489.02M1383.0 489.03L1385.0 488.84L1387.0 489.21L1389.0 488.69L1391.0 488.72L1393.0 488.87L1395.0 488.89L1397.0 488.74L1399.0 489.38L1401.0 489.30L1403.0 488.65L1405.0 488.88M1414.8 488.76L1416.8 488.96L1418.8 488.80L1420.8 489.00L1422.8 489.38L1424.8 488.89L1426.8 489.14L1428.8 489.09L1430.8 489.23L1432.8 488.61L1434.8 489.22L1436.8 489.40M1446.5 489.09L1448.5 488.81L1450.5 489.16L1452.5 489.19L1454.5 489.14L1456.5 488.68L1458.5 489.43L1460.5 489.41L1462.5 488.93L1464.5 489.08L1466.5 488.59L1468.5 489.44M1478.2 489.29L1480.2 489.12L1482.2 489.23L1484.2 488.72L1486.2 488.83L1488.2 488.77L1490.2 489.09L1492.2 488.63L1494.2 489.36L1496.2 488.97L1498.2 488.95L1500.2 488.64M1510.0 489.17L1512.0 489.29L1514.0 489.12L1516.0 488.77L1518.0 489.26L1520.0 488.68L1522.0 489.29L1524.0 489.07L1526.0 488.81L1528.0 489.01L1530.0 489.12L1532.0 488.78M1541.8 489.31L1543.8 488.93L1545.8 489.35L1547.8 489.30L1549.8 488.64L1551.8 489.13L1553.8 488.83L1555.8 489.23L1557.8 489.04L1559.8 488.96L1561.8 489.36L1563.8 488.60M1573.5 489.05L1575.5 488.85L1577.5 488.58L1579.5 489.23L1581.5 489.06L1583.5 489.35L1585.5 489.09L1587.5 488.85L1589.5 489.44L1591.5 488.65L1593.5 488.60L1595.5 489.21M1605.2 488.88L1607.2 488.88L1609.2 489.34L1611.2 488.84L1613.2 489.35L1615.2 489.13L1617.2 488.85L1619.2 488.60L1621.2 488.77L1623.2 489.42L1625.2 488.91L1627.2 488.69M1637.0 488.82L1639.0 489.36L1641.0 488.70L1643.0 489.25L1645.0 488.67L1647.0 489.42L1649.0 489.03L1651.0 488.59L1653.0 489.39L1655.0 488.87L1657.0 489.21L1659.0 489.02M1668.8 488.63L1670.8 488.65L1672.8 488.68L1674.8 488.70L1676.8 488.60L1678.8 488.59L1680.8 489.40L1682.8 488.63L1684.8 489.01L1686.8 488.66L1688.8 488.74L1690.8 489.24M1700.5 489.39L1702.5 488.97L1704.5 488.56L1706.5 489.45L1708.5 488.59L1710.5 488.90L1712.5 489.04L1714.5 489.35L1716.5 489.29L1718.5 489.10L1720.5 488.91L1722.5 489.30M1732.2 489.33L1734.2 489.33L1736.2 489.20L1738.2 488.64L1740.2 488.82L1742.2 488.99L1744.2 489.00L1746.2 489.30L1748.2 488.76L1750.2 489.15L1752.2 488.89L1754.2 489.25M1764.0 488.73L1766.0 488.98L1768.0 488.64L1770.0 488.74L1772.0 489.39L1774.0 488.83L1776.0 489.35L1778.0 489.02L1780.0 488.59L1782.0 489.26L1784.0 488.60L1786.0 489.29M1795.8 488.56L1797.8 489.16L1799.8 488.70L1801.8 488.86L1803.8 489.41L1805.8 488.99L1807.8 489.14L1809.8 489.22L1811.8 488.65L1813.8 489.30L1815.8 489.37L1817.8 488.69M1827.5 489.04L1829.5 488.81L1831.5 489.22L1833.5 488.58L1835.5 489.01L1837.5 489.26L1839.5 489.21L1841.5 488.65L1843.5 489.30L1845.5 488.76L1847.5 489.28L1849.5 489.00M1859.2 488.69L1861.2 489.21L1863.2 489.28L1865.2 489.18L1867.2 489.42L1869.2 488.78L1871.2 488.76L1873.2 488.68L1875.2 489.04L1877.2 488.91L1879.2 488.87L1881.2 488.96M1891.0 488.80L1893.0 488.55L1895.0 488.97L1897.0 488.80L1899.0 488.95L1901.0 489.39L1903.0 488.71L1905.0 489.12L1907.0 489.13L1909.0 488.80L1909.5 488.97" fill="none" stroke="#000" stroke-width="3.4"/>
</svg></body></html>
